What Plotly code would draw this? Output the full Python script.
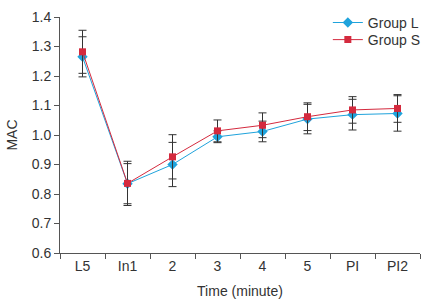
import plotly.graph_objects as go

categories = ["L5", "In1", "2", "3", "4", "5", "PI", "PI2"]
group_l = [1.265, 0.835, 0.900, 0.994, 1.012, 1.054, 1.069, 1.073]
group_l_err = [0.068, 0.068, 0.075, 0.020, 0.035, 0.050, 0.052, 0.060]
group_s = [1.282, 0.836, 0.926, 1.014, 1.033, 1.062, 1.085, 1.090]
group_s_err = [0.073, 0.075, 0.075, 0.037, 0.042, 0.047, 0.045, 0.047]

BLUE = "#1fa3dc"
RED = "#d42a3e"
ERR = "#333333"
FONT = "Arial, Liberation Sans, sans-serif"

fig = go.Figure()
fig.add_trace(go.Scatter(
    x=categories, y=group_l, name="Group L", mode="lines+markers",
    line=dict(color=BLUE, width=1),
    marker=dict(symbol="diamond", size=8, color=BLUE),
    error_y=dict(type="data", array=group_l_err, visible=True,
                 color=ERR, thickness=1, width=4),
    legend="legend",
))
fig.add_trace(go.Scatter(
    x=categories, y=group_s, name="Group S", mode="lines+markers",
    line=dict(color=RED, width=1),
    marker=dict(symbol="square", size=7, color=RED),
    error_y=dict(type="data", array=group_s_err, visible=True,
                 color=ERR, thickness=1, width=4),
    legend="legend2",
))

leg_common = dict(xanchor="left", yanchor="middle",
                  bgcolor="rgba(0,0,0,0)", font=dict(size=14, color="#333333"))
fig.update_layout(
    width=431, height=306,
    margin=dict(l=60, r=11, t=17, b=53, autoexpand=False),
    paper_bgcolor="white", plot_bgcolor="white",
    font=dict(family=FONT, size=14, color="#333333"),
    legend=dict(x=0.744, y=0.975, **leg_common),
    legend2=dict(x=0.744, y=0.9025, **leg_common),
    showlegend=True,
)
fig.update_xaxes(
    type="category", range=[-0.5, 7.5],
    showline=True, linecolor="#555555", linewidth=1,
    ticks="outside", tickson="boundaries", ticklen=5, tickcolor="#555555",
    showgrid=False, zeroline=False,
    title=dict(text="Time (minute)", standoff=13, font=dict(size=14)),
)
fig.update_yaxes(
    range=[0.6, 1.4], dtick=0.1, tickformat=".1f",
    showline=True, linecolor="#555555", linewidth=1,
    ticks="outside", ticklen=5, tickcolor="#555555",
    showgrid=False, zeroline=False,
    title=dict(text="MAC", standoff=10, font=dict(size=14)),
)

fig.write_html(
    "out.html",
    config={"displayModeBar": False},
    post_script="document.body.style.margin='0';document.body.style.overflow='hidden';",
)
